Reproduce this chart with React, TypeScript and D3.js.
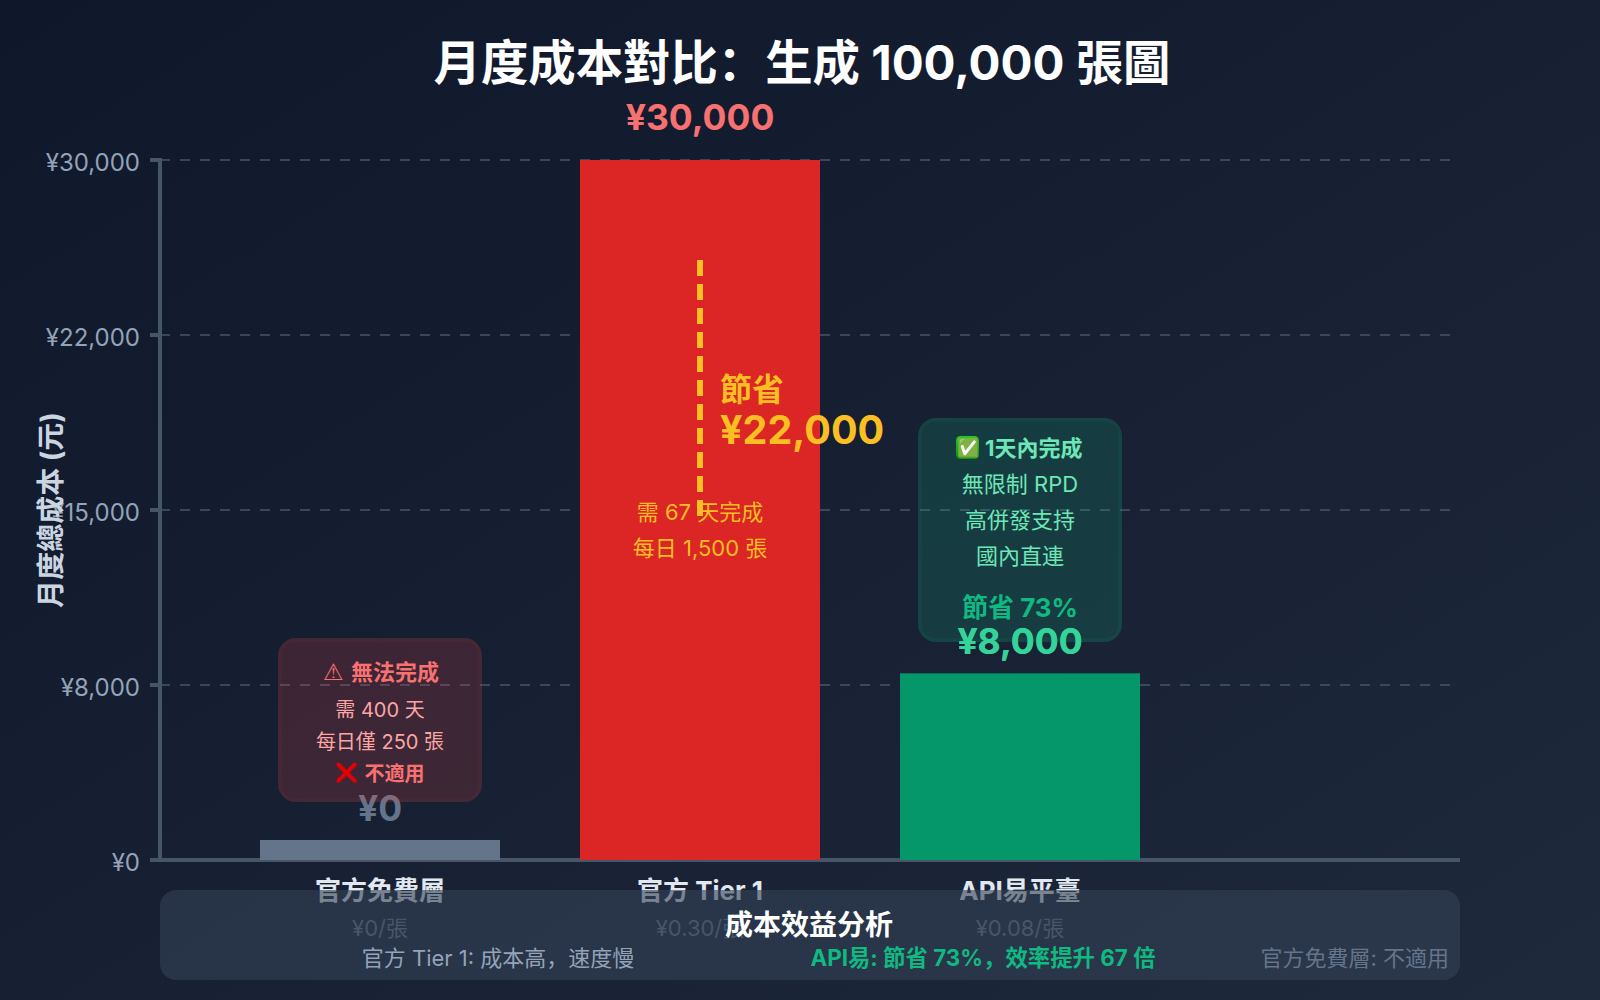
import React from "react";
import * as d3 from "d3";

const titleText = "月度成本對比\uFF1A生成 100,000 張圖";
const categories = ["官方免費層", "官方 Tier 1", "API易平臺"];
const unitPrices = ["¥0/張", "¥0.30/張", "¥0.08/張"];
const costs = [0, 30000, 8000];
const costLabels = ["¥0", "¥30,000", "¥8,000"];
const barColors = ["#64748b", "#dc2626", "#059669"];
const labelColors = ["#64748b", "#f87171", "#34d399"];
const tickValues = [0, 8000, 15000, 22000, 30000];
const tickLabels = ["¥0", "¥8,000", "¥15,000", "¥22,000", "¥30,000"];
const freeLines = ["需 400 天", "每日僅 250 張"];
const apiLines = ["無限制 RPD", "高併發支持", "國內直連"];
const tierLines = ["需 67 天完成", "每日 1,500 張"];
const savingsValue = "¥22,000";
const summaryTier = "官方 Tier 1: 成本高\uFF0C速度慢";
const summaryApi = "API易: 節省 73%\uFF0C效率提升 67 倍";
const summaryFree = "官方免費層: 不適用";

const FONT = "Inter, 'Noto Sans CJK SC', 'Noto Sans', sans-serif";
const SYMBOL = "'DejaVu Sans'";

export default function App() {
  const x = d3.scaleBand<string>().domain(categories).range([220, 1180]).paddingInner(0.25).paddingOuter(0.125);
  const yBar = d3.scaleLinear().domain([0, 30000]).range([860, 160]);
  const yTick = d3.scalePoint<number>().domain(tickValues).range([860, 160]);
  const cx = (i: number) => (x(categories[i]) as number) + x.bandwidth() / 2;
  const barH = (v: number) => Math.max(yBar(0) - yBar(v), 20);
  const labelY = [821, 130, 654];
  return (
    <svg width={1600} height={1000} viewBox="0 0 1600 1000" fontFamily={FONT}
      style={{ position: "absolute", left: 0, top: 0, display: "block" }}>
      <defs>
        <linearGradient id="bg" x1="0" y1="0" x2="1" y2="1">
          <stop offset="0" stopColor="#0f172a" />
          <stop offset="1" stopColor="#1e293b" />
        </linearGradient>
        <linearGradient id="ok" x1="0" y1="0" x2="0" y2="1">
          <stop offset="0" stopColor="#2cc52c" />
          <stop offset="1" stopColor="#059a05" />
        </linearGradient>
        <filter id="pureRed" x="-20%" y="-20%" width="140%" height="140%">
          <feFlood floodColor="#e80000" />
          <feComposite in2="SourceAlpha" operator="in" />
        </filter>
      </defs>
      <rect x={0} y={0} width={1600} height={1000} fill="url(#bg)" />

      <text x={802} y={80} textAnchor="middle" fontSize={47.4} fontWeight={700} fill="#ffffff">{titleText}</text>

      {tickValues.map((t) => t > 0 && (
        <line key={t} x1={160} x2={1450} y1={yTick(t)} y2={yTick(t)} stroke="#475569" strokeOpacity={0.75} strokeWidth={2} strokeDasharray="10 10" />
      ))}
      <line x1={160} x2={160} y1={158} y2={862} stroke="#475569" strokeWidth={4} />
      <line x1={150} x2={1460} y1={860} y2={860} stroke="#475569" strokeWidth={4} />
      {tickValues.map((t, i) => (
        <g key={t}>
          <line x1={150} x2={160} y1={yTick(t)} y2={yTick(t)} stroke="#475569" strokeWidth={4} />
          <text x={140} y={(yTick(t) as number) + 10.5} textAnchor="end" fontSize={24} fill="#94a3b8">{tickLabels[i]}</text>
        </g>
      ))}
      <text transform="translate(61,510) rotate(-90)" textAnchor="middle" fontSize={28} fontWeight={700} fill="#cbd5e1">月度總成本 (元)</text>

      {costs.map((v, i) => (
        <rect key={categories[i]} x={x(categories[i])} y={yBar(0) - barH(v)} width={x.bandwidth()} height={barH(v)} fill={barColors[i]} />
      ))}
      {categories.map((c, i) => (
        <g key={c} textAnchor="middle">
          <text x={cx(i)} y={labelY[i]} fontSize={35.5} fontWeight={700} fill={labelColors[i]}>{costLabels[i]}</text>
          <text x={cx(i)} y={900} fontSize={26} fontWeight={700} fill="#e2e8f0">{c}</text>
          <text x={cx(i)} y={936} fontSize={22} fill="#64748b">{unitPrices[i]}</text>
        </g>
      ))}

      <line x1={700} x2={700} y1={260} y2={516} stroke="#fbbf24" strokeWidth={6} strokeDasharray="16 8" />
      <text x={720} y={401} fontSize={32} fontWeight={700} fill="#fbbf24">節省</text>
      <text x={720} y={444} fontSize={39.5} fontWeight={700} fill="#fbbf24">{savingsValue}</text>
      {tierLines.map((l, i) => (
        <text key={l} x={700} y={520 + i * 35.5} textAnchor="middle" fontSize={22} fill="#fbbf24">{l}</text>
      ))}

      <rect x={282} y={642} width={196} height={156} rx={14} fill="#ef4444" fillOpacity={0.18} />
      <rect x={280} y={640} width={200} height={160} rx={16} fill="none" stroke="#ef4444" strokeOpacity={0.22} strokeWidth={4} />
      <text x={323} y={680} fontSize={23} fontFamily={SYMBOL} fontWeight={700} fill="#f87171">⚠</text>
      <text x={351} y={680} fontSize={22} fontWeight={700} fill="#f87171">無法完成</text>
      {freeLines.map((l, i) => (
        <text key={l} x={380} y={717 + i * 32} textAnchor="middle" fontSize={20} fill="#fca5a5">{l}</text>
      ))}
      <text x={335} y={778.5} fontSize={18.6} fontFamily={SYMBOL} filter="url(#pureRed)" fill="#e80000">❌</text>
      <text x={364.5} y={781} fontSize={20} fontWeight={600} fill="#f87171">不適用</text>

      <rect x={922} y={422} width={196} height={216} rx={14} fill="#10b981" fillOpacity={0.18} />
      <rect x={920} y={420} width={200} height={220} rx={16} fill="none" stroke="#10b981" strokeOpacity={0.22} strokeWidth={4} />
      <rect x={956} y={436} width={23} height={23} rx={4.5} fill="url(#ok)" />
      <text x={967.5} y={454} textAnchor="middle" fontSize={18} fontFamily={SYMBOL} fill="#ffffff">✅</text>
      <text x={985} y={456} fontSize={22} fontWeight={700} fill="#6ee7b7">1天內完成</text>
      {apiLines.map((l, i) => (
        <text key={l} x={1020} y={492 + i * 36} textAnchor="middle" fontSize={22} fill="#6ee7b7">{l}</text>
      ))}
      <text x={1020} y={617} textAnchor="middle" fontSize={26} fontWeight={700} fill="#10b981">節省 73%</text>
      <text x={1020} y={654} textAnchor="middle" fontSize={35.5} fontWeight={700} fill="#34d399">{costLabels[2]}</text>

      <rect x={160} y={890} width={1300} height={90} rx={16} fill="#334155" fillOpacity={0.6} />
      <text x={809} y={935} textAnchor="middle" fontSize={28} fontWeight={700} fill="#ffffff">成本效益分析</text>
      <text x={498} y={966} textAnchor="middle" fontSize={22} fill="#94a3b8">{summaryTier}</text>
      <text x={983} y={966} textAnchor="middle" fontSize={22.4} fontWeight={700} fill="#10b981">{summaryApi}</text>
      <text x={1449} y={966} textAnchor="end" fontSize={22} fill="#64748b">{summaryFree}</text>
    </svg>
  );
}
